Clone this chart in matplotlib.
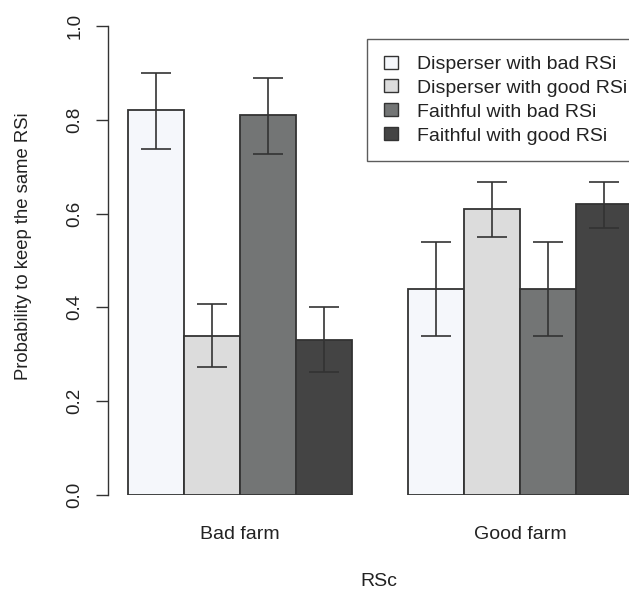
import matplotlib
matplotlib.use("Agg")
import matplotlib.pyplot as plt
from matplotlib.patches import Patch
import numpy as np

plt.rcParams['font.family'] = ['Liberation Sans', 'DejaVu Sans']

groups = ["Bad farm", "Good farm"]
series = ["Disperser with bad RSi", "Disperser with good RSi",
          "Faithful with bad RSi", "Faithful with good RSi"]
values = [[0.82, 0.34, 0.81, 0.33],
          [0.44, 0.61, 0.44, 0.62]]
err_low = [[0.738, 0.272, 0.727, 0.262],
           [0.338, 0.550, 0.338, 0.570]]
err_high = [[0.900, 0.407, 0.889, 0.400],
            [0.540, 0.668, 0.540, 0.668]]
colors = ["#f5f7fb", "#dcdcdc", "#737575", "#444444"]
text_col = "#222222"

W, H = 629, 591
fig = plt.figure(figsize=(W / 100, H / 100), dpi=100)
ax = fig.add_axes([108 / W, (H - 495) / H, (W - 108) / W, (495 - 26) / H])

for g in range(len(groups)):
    for s in range(len(series)):
        x = 1 + g * 5 + s + 0.5
        v = values[g][s]
        ax.bar(x, v, width=1.0, color=colors[s], edgecolor="#333333",
               linewidth=1.3, zorder=2)
        lo, hi = err_low[g][s], err_high[g][s]
        ax.errorbar(x, v, yerr=[[v - lo], [hi - v]], fmt="none",
                    ecolor="#333333", elinewidth=1.2, capsize=10.5,
                    capthick=1.2, zorder=3)

ax.set_xlim(1 - 20 / 56, 1 + (W - 128) / 56)
ax.set_ylim(0, 1)
for sp in ["top", "right", "bottom"]:
    ax.spines[sp].set_visible(False)
ax.spines["left"].set_bounds(0, 1)
ax.spines["left"].set_linewidth(1.0)
ax.spines["left"].set_color("#333333")
ax.set_yticks([0, 0.2, 0.4, 0.6, 0.8, 1.0])
ax.set_yticklabels(["0.0", "0.2", "0.4", "0.6", "0.8", "1.0"],
                   rotation=90, va="center", fontsize=13.5, color=text_col)
ax.tick_params(axis="y", length=8.6, width=1.0, color="#333333", pad=9)
ax.set_xticks([3, 8])
ax.set_xticklabels(groups, fontsize=14, color=text_col)
ax.tick_params(axis="x", length=0, pad=22)

fig.text(379 / W, 1 - 581 / H, "RSc", fontsize=14, color=text_col,
         ha="center", va="center")
fig.text(24 / W, 1 - 246 / H, "Probability to keep the same RSi",
         fontsize=13.3, color=text_col, rotation=90,
         ha="center", va="center")

handles = [Patch(facecolor=c, edgecolor="#333333", linewidth=1.0) for c in colors]
leg = fig.legend(handles, series, loc="upper left",
                 bbox_to_anchor=(367 / W, (H - 39) / H),
                 fontsize=14, frameon=True, fancybox=False,
                 edgecolor="#333333", borderaxespad=0,
                 handlelength=0.75, handleheight=0.65, handletextpad=0.95,
                 labelspacing=0.34, borderpad=0.85)
leg.get_frame().set_linewidth(1.0)
for t in leg.get_texts():
    t.set_color(text_col)

fig.savefig("out.png", dpi=100)
